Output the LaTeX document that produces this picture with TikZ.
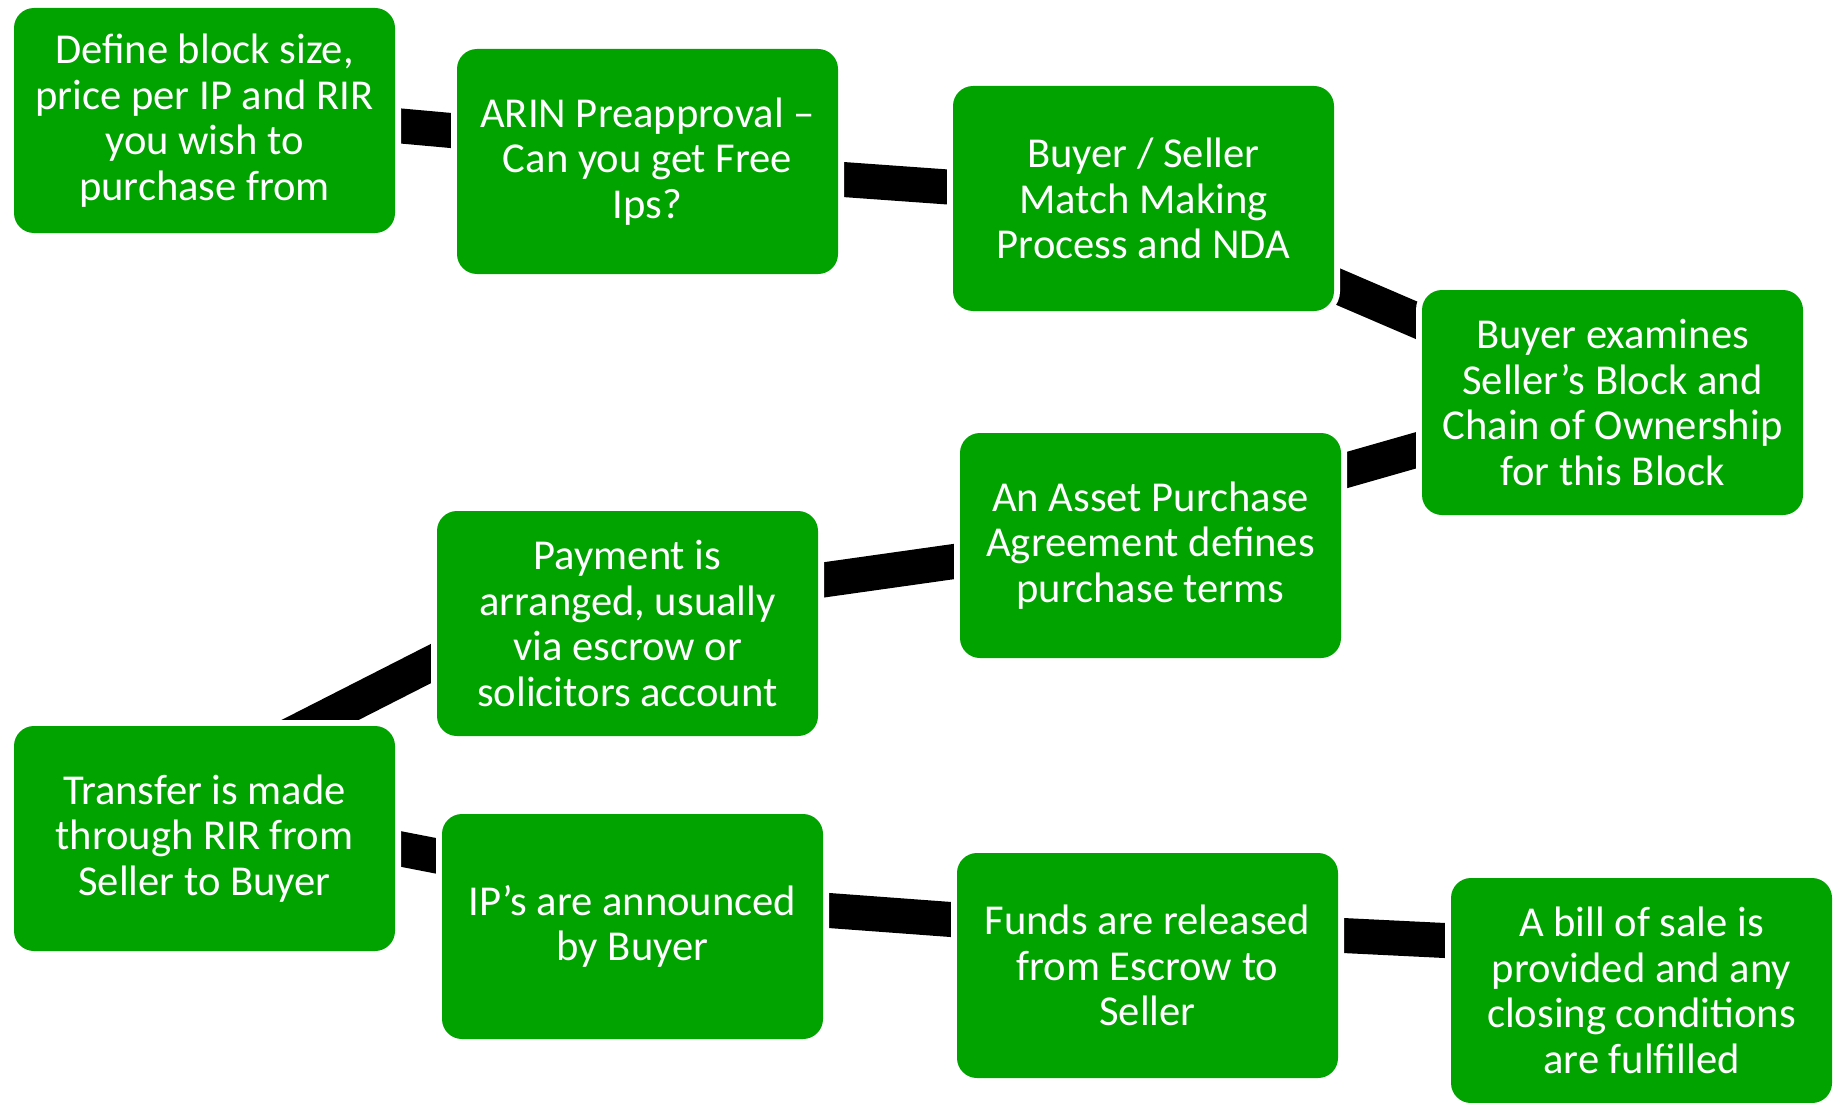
\documentclass[tikz,border=0pt]{standalone}
\usepackage{fontspec}
\setmainfont{Carlito}
\definecolor{boxgreen}{RGB}{0,163,0}
\tikzset{
  box/.style={rectangle, rounded corners=10pt, fill=boxgreen, text=white,
    minimum width=190.5pt, minimum height=112.5pt, inner sep=0pt, outer sep=0pt,
    align=center, font=\fontsize{21.3pt}{22.8pt}\selectfont,
    execute at begin node={\rule{0pt}{17.5pt}},
    preaction={draw=white, line width=6pt}},
  bar/.style={draw=black, line width=17.5pt, line cap=butt,
    shorten <=-30pt, shorten >=-30pt},
  anchorbox/.style={rectangle, minimum width=190.5pt, minimum height=112.5pt,
    inner sep=0pt, outer sep=0pt}
}
\begin{document}
\begin{tikzpicture}[x=0.5pt, y=-0.5pt]
\useasboundingbox (0,0) rectangle (1834,1102);
% box centres
\coordinate (c1) at (204.5,120.5);
\coordinate (c2) at (647.5,161.5);
\coordinate (c3) at (1143.5,198.5);
\coordinate (c4) at (1612.5,402.5);
\coordinate (c5) at (1150.5,545.5);
\coordinate (c6) at (627.5,623.5);
\coordinate (c7) at (204.5,838.5);
\coordinate (c8) at (632.5,926.5);
\coordinate (c9) at (1147.5,965.5);
\coordinate (c10) at (1641.5,990.5);
% empty nodes giving the anchors of the boxes
\foreach \i in {1,...,10} {
  \node[anchorbox] (a\i) at (c\i) {};
}
% connectors
\draw[bar] ([shift={(6,5.5)}]a1.east) -- ([shift={(-6,-31)}]a2.west);
\draw[bar] ([shift={(5,18)}]a2.east) -- ([shift={(-5,-11.5)}]a3.west);
\draw[bar] ([shift={(5,88.5)}]a3.east) -- ([shift={(-5,-82)}]a4.west);
\draw[bar] ([shift={(-5,47.5)}]a4.west) -- ([shift={(6,-75.5)}]a5.east);
\draw[bar] ([shift={(-6,16)}]a5.west) -- ([shift={(5,-43.5)}]a6.east);
\draw[bar] ([shift={(-7,40.5)}]a6.west) -- ([shift={(117.5,-7)}]a7.north);
\draw[bar] ([shift={(6,10.5)}]a7.east) -- ([shift={(-5,-70.5)}]a8.west);
\draw[bar] ([shift={(6,-16)}]a8.east) -- ([shift={(-6,-46)}]a9.west);
\draw[bar] ([shift={(5,-30)}]a9.east) -- ([shift={(-6,-50)}]a10.west);
% boxes
\node[box] (b1) at (c1) {Define block size,\\price per IP and RIR\\you wish to\\purchase from};
\node[box] (b2) at (c2) {ARIN Preapproval –\\Can you get Free\\Ips?};
\node[box] (b3) at (c3) {Buyer / Seller\\Match Making\\Process and NDA};
\node[box] (b4) at (c4) {Buyer examines\\Seller’s Block and\\Chain of Ownership\\for this Block};
\node[box] (b5) at (c5) {An Asset Purchase\\Agreement defines\\purchase terms};
\node[box] (b6) at (c6) {Payment is\\arranged, usually\\via escrow or\\solicitors account};
\node[box] (b7) at (c7) {Transfer is made\\through RIR from\\Seller to Buyer};
\node[box] (b8) at (c8) {IP’s are announced\\by Buyer};
\node[box] (b9) at (c9) {Funds are released\\from Escrow to\\Seller};
\node[box] (b10) at (c10) {A bill of sale is\\provided and any\\closing conditions\\are fulfilled};
\end{tikzpicture}
\end{document}
